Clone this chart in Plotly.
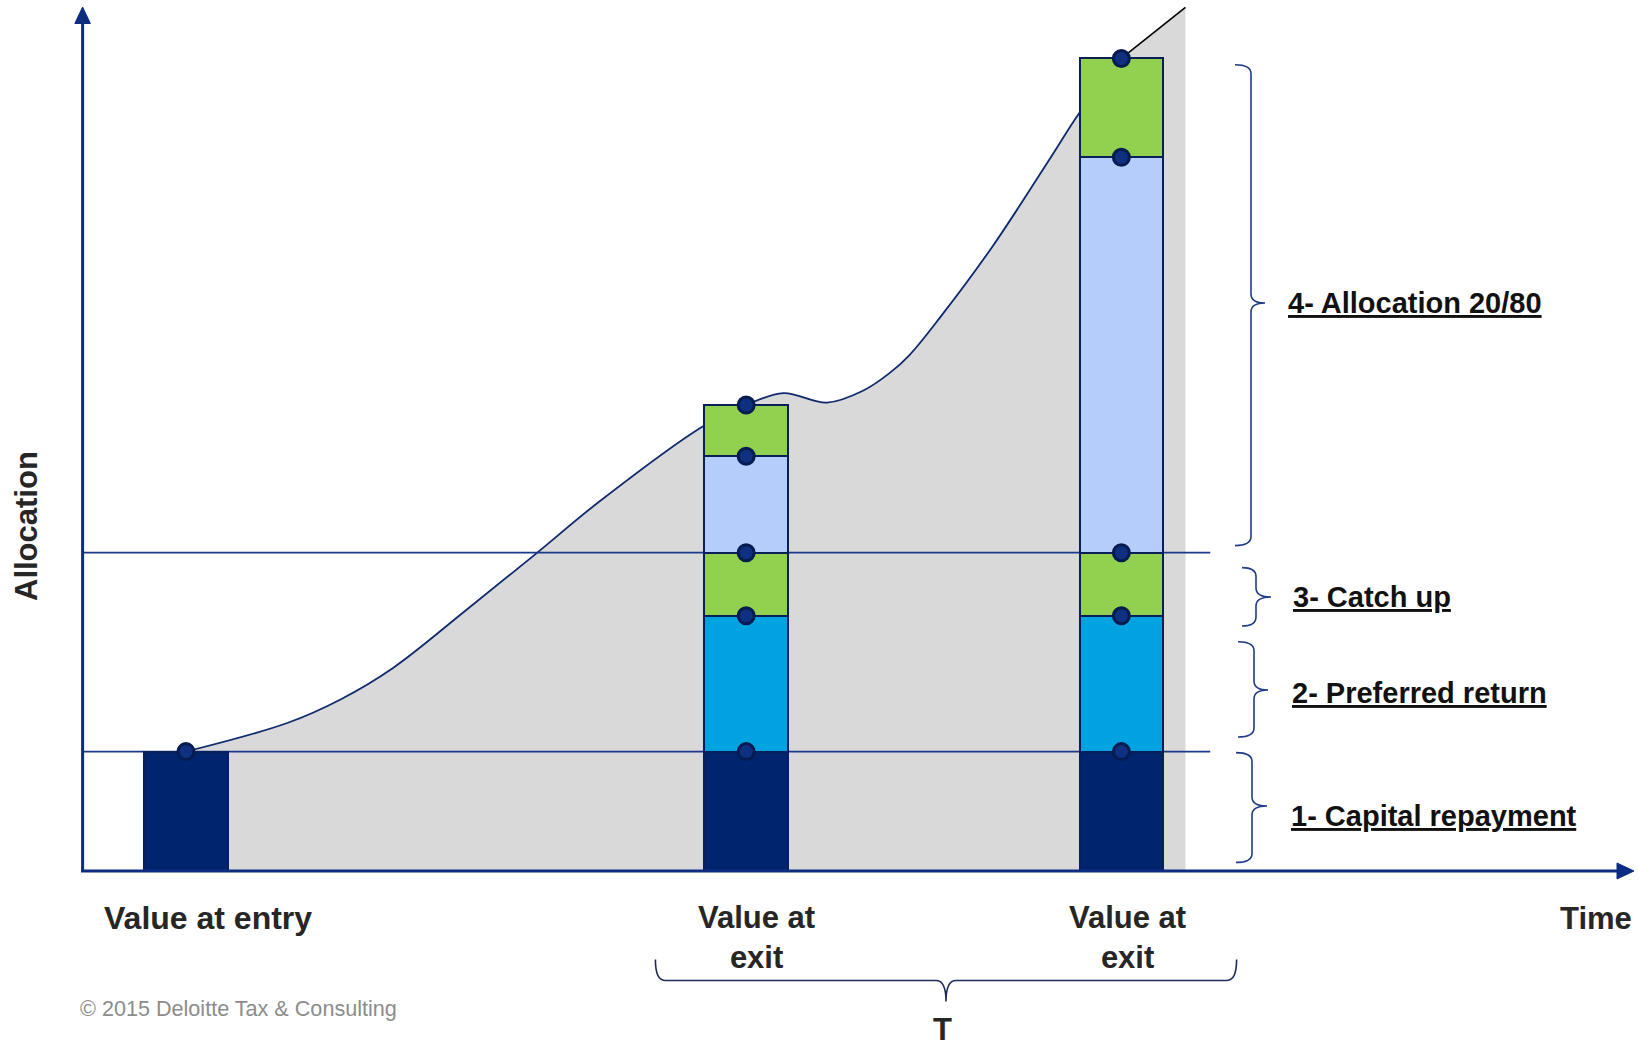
import numpy as np
import plotly.graph_objects as go

# ---------------------------------------------------------------- data
stage_labels = ["Value at entry", "Value at exit", "Value at exit"]
stage_time = [1.0, 6.42, 10.05]

capital_repayment = [100, 100, 100]
preferred_return = [None, 114, 114]
catch_up = [None, 53, 53]
allocation_lp_80 = [None, 81, 332]
allocation_gp_20 = [None, 43, 83]

# value of the investment over time
value_time = [1.0, 1.98, 2.5, 3.0, 3.7, 4.37, 5.0, 6.0, 6.42, 6.78, 7.20,
              7.55, 7.81, 8.0, 8.30, 8.81, 9.36, 9.65, 10.05]
value_level = [100, 124, 144, 170, 218, 265, 310, 373, 391, 401, 393,
               403, 418, 433, 465, 525, 598, 637, 682]
value_tail_time = [10.05, 10.67]
value_tail_level = [682, 725]

hurdle_levels = [100, 267]
hurdle_end = 10.91

tier_labels = ["4- Allocation 20/80", "3- Catch up", "2- Preferred return",
               "1- Capital repayment"]

# ---------------------------------------------------------------- styles
W, H = 1639, 1046
X_RANGE = [-0.799, 15.058]
Y_RANGE = [-147.2, 731.1]

NAVY = "#00256e"
CYAN = "#00a3e0"
GREEN = "#92d050"
LIGHT_BLUE = "#b4cdfb"
GREY = "#d9d9d9"
EDGE = "#0a1f5a"
AXIS = "#0e2c82"
FONT = "Liberation Sans, Arial, sans-serif"
BAR_W = 0.81


def X(px):
    return px / W


def Y(py):
    return 1 - py / H


fig = go.Figure()

# area under the value curve
fig.add_trace(go.Scatter(
    x=value_time, y=value_level, mode="lines", line_shape="spline",
    line=dict(color="#0e2a6e", width=1.8, smoothing=1.0), fill="tozeroy",
    fillcolor=GREY, hoverinfo="skip", showlegend=False))
fig.add_trace(go.Scatter(
    x=value_tail_time, y=value_tail_level, mode="lines",
    line=dict(color="black", width=1.6), fill="tozeroy", fillcolor=GREY,
    hoverinfo="skip", showlegend=False))

# hurdle lines
for lvl in hurdle_levels:
    fig.add_trace(go.Scatter(
        x=[0, hurdle_end], y=[lvl, lvl], mode="lines",
        line=dict(color="#1b3a8c", width=1.8), hoverinfo="skip",
        showlegend=False))

# stacked distribution tiers (overlay subplot so they sit above the area)
tiers = [
    ("Capital repayment", capital_repayment, NAVY),
    ("Preferred return", preferred_return, CYAN),
    ("Catch up", catch_up, GREEN),
    ("Allocation 80", allocation_lp_80, LIGHT_BLUE),
    ("Allocation 20", allocation_gp_20, GREEN),
]
for name, vals, col in tiers:
    fig.add_trace(go.Bar(
        x=stage_time, y=vals, name=name, width=BAR_W,
        marker=dict(color=col, line=dict(color=EDGE, width=2.5)),
        xaxis="x2", yaxis="y2", showlegend=False, hoverinfo="skip"))

# boundary markers at each tier edge
dot_x, dot_y = [], []
for i, t in enumerate(stage_time):
    level = 0
    for _, vals, _ in tiers:
        if vals[i] is None:
            continue
        level += vals[i]
        dot_x.append(t)
        dot_y.append(level)
fig.add_trace(go.Scatter(
    x=dot_x, y=dot_y, mode="markers",
    marker=dict(size=16, color="#0e3080", line=dict(color="#061c50", width=3)),
    xaxis="x2", yaxis="y2", hoverinfo="skip", showlegend=False))

# ---------------------------------------------------------------- axes arrows
shapes = []
shapes.append(dict(type="line", xref="paper", yref="paper",
                   x0=X(82.6), y0=Y(872), x1=X(82.6), y1=Y(22),
                   line=dict(color=AXIS, width=3)))
shapes.append(dict(type="path", xref="paper", yref="paper",
                   path=f"M {X(82.6)},{Y(7)} L {X(74.8)},{Y(23.5)} L {X(90.4)},{Y(23.5)} Z",
                   fillcolor=AXIS, line=dict(color=AXIS, width=1)))
shapes.append(dict(type="line", xref="paper", yref="paper",
                   x0=X(81), y0=Y(871), x1=X(1619), y1=Y(871),
                   line=dict(color=AXIS, width=3)))
shapes.append(dict(type="path", xref="paper", yref="paper",
                   path=f"M {X(1634)},{Y(871)} L {X(1617)},{Y(863)} L {X(1617)},{Y(879)} Z",
                   fillcolor=AXIS, line=dict(color=AXIS, width=1)))


def v_brace(xt, xs, xp, y0, y1, ym, r=9):
    return (f"M {X(xt)},{Y(y0)} Q {X(xs)},{Y(y0)} {X(xs)},{Y(y0 + r)} "
            f"L {X(xs)},{Y(ym - r)} Q {X(xs)},{Y(ym)} {X(xp)},{Y(ym)} "
            f"Q {X(xs)},{Y(ym)} {X(xs)},{Y(ym + r)} "
            f"L {X(xs)},{Y(y1 - r)} Q {X(xs)},{Y(y1)} {X(xt)},{Y(y1)}")


braces = [
    (1235, 1251, 1265, 64.8, 545.6, 303),
    (1242, 1256, 1271, 567.6, 626.0, 597),
    (1238, 1254, 1268, 641.8, 737.0, 690),
    (1236, 1252, 1267, 752.6, 862.4, 806),
]
for b in braces:
    shapes.append(dict(type="path", xref="paper", yref="paper",
                       path=v_brace(*b), line=dict(color="#1f3c88", width=1.6)))

# period brace under the two exit points
hb = (f"M {X(655.4)},{Y(959.6)} Q {X(655.4)},{Y(980.5)} {X(665)},{Y(980.5)} "
      f"L {X(936)},{Y(980.5)} Q {X(946)},{Y(980.5)} {X(946)},{Y(1001.4)} "
      f"Q {X(946)},{Y(980.5)} {X(956)},{Y(980.5)} "
      f"L {X(1227)},{Y(980.5)} Q {X(1236.6)},{Y(980.5)} {X(1236.6)},{Y(959.6)}")
shapes.append(dict(type="path", xref="paper", yref="paper", path=hb,
                   line=dict(color="#1d2b5a", width=1.6)))

# ---------------------------------------------------------------- text
ann = []
dark = "#262626"


def add_text(text, x, y, size=31, color=dark, xanchor="center", bold=True, **kw):
    ann.append(dict(text=f"<b>{text}</b>" if bold else text,
                    xref="paper", yref="paper", x=X(x), y=Y(y),
                    xanchor=xanchor, yanchor="middle", showarrow=False,
                    font=dict(family=FONT, size=size, color=color), **kw))


add_text("Allocation", 26, 526, textangle=-90)
add_text(stage_labels[0], 207.5, 918, size=32)
add_text(stage_labels[1].replace(" exit", "<br>exit"), 756, 937)
add_text(stage_labels[2].replace(" exit", "<br>exit"), 1127, 937)
add_text("Time", 1596, 918)
add_text("T", 942, 1029)
add_text("© 2015 Deloitte Tax & Consulting", 78, 1008, size=21.6,
         color="#8c8c8c", xanchor="left", bold=False)

label_pos = [(1286, 303), (1291, 597), (1290, 693), (1289, 816)]
for lab, (lx, ly) in zip(tier_labels, label_pos):
    add_text(f"<u>{lab}</u>", lx, ly, size=29, color="#111111", xanchor="left")

# ---------------------------------------------------------------- layout
hidden = dict(visible=False, showgrid=False, zeroline=False, fixedrange=True)
fig.update_layout(
    width=W, height=H,
    margin=dict(l=0, r=0, t=0, b=0),
    paper_bgcolor="white", plot_bgcolor="white",
    barmode="stack", bargap=0,
    xaxis=dict(range=X_RANGE, domain=[0, 1], **hidden),
    yaxis=dict(range=Y_RANGE, domain=[0, 1], **hidden),
    xaxis2=dict(range=X_RANGE, overlaying="x", anchor="y2", **hidden),
    yaxis2=dict(range=Y_RANGE, overlaying="y", anchor="x2", **hidden),
    shapes=shapes,
    annotations=ann,
    showlegend=False,
)

fig.write_html("out.html", config=dict(displayModeBar=False))
